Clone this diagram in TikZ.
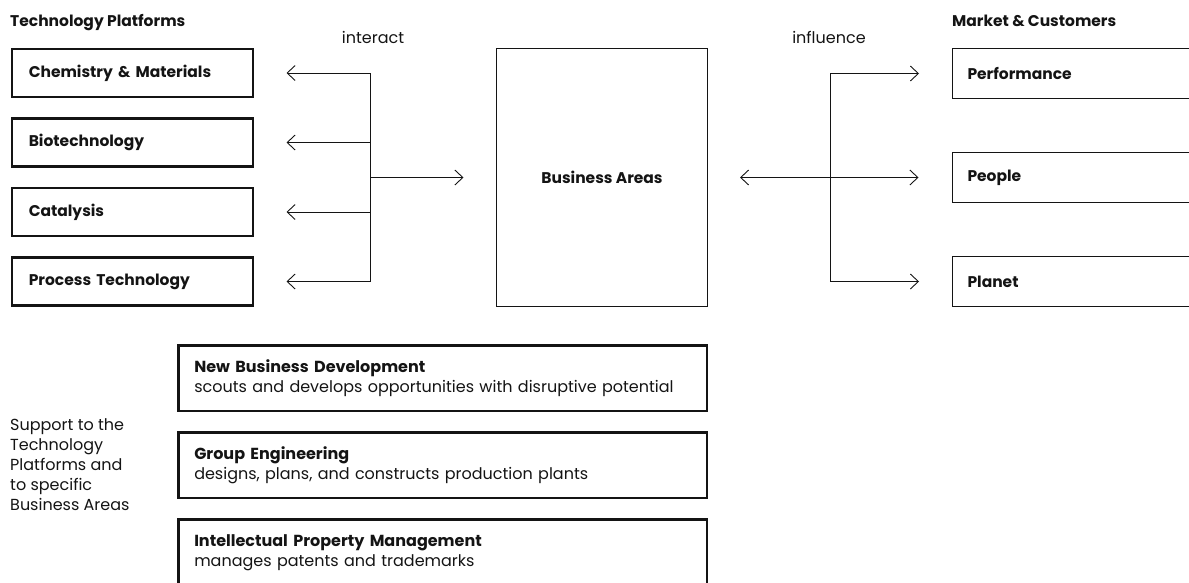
\documentclass[tikz,border=0pt]{standalone}
\usepackage{fontspec}
\setmainfont{Poppins}
\usepackage{xcolor}
\usepackage{tikz}
\usetikzlibrary{positioning, arrows.meta}
\definecolor{ink}{HTML}{141414}
\tikzset{
    platform/.style={rectangle, draw=ink, line width=2.5pt, minimum width=241pt, minimum height=48pt, text width=207pt, inner xsep=17pt, align=left, font=\bfseries\fontsize{15.5}{18}\selectfont, text=ink},
    market/.style={rectangle, draw=ink, line width=1pt, minimum width=300pt, minimum height=50pt, text width=269pt, inner xsep=15.5pt, align=left, font=\bfseries\fontsize{15.5}{18}\selectfont, text=ink},
    core/.style={rectangle, draw=ink, line width=1pt, minimum width=211pt, minimum height=258pt, align=center, font=\bfseries\fontsize{15.5}{18}\selectfont, text=ink},
    support/.style={rectangle, draw=ink, line width=2.5pt, minimum width=528.5pt, minimum height=65.5pt, text width=497pt, inner xsep=15.75pt, align=left, font=\fontsize{16}{20}\selectfont, text=ink},
    head/.style={font=\bfseries\fontsize{15.5}{18}\selectfont, text=ink, inner sep=0pt},
    label/.style={font=\fontsize{16}{20}\selectfont, text=ink, inner sep=0pt, align=left},
    link/.style={draw=ink, line width=0.9pt},
    arrow/.style={link, -{Straight Barb[length=8pt, width=15pt]}, shorten >=32.5pt},
    dblarrow/.style={link, {Straight Barb[length=8pt, width=15pt]}-{Straight Barb[length=8pt, width=15pt]}, shorten <=32pt, shorten >=33pt}
}

\begin{document}
\begin{tikzpicture}[x=1pt, y=-1pt]
        \useasboundingbox (0,0) rectangle (1189,582);
        \clip (0,0) rectangle (1189,582);

        % Technology Platforms
        \node[head, anchor=base west] (TechHead) at (10,26) {Technology Platforms};
        \node[platform, anchor=west] (Chem) at (10.5,73) {Chemistry \& Materials};
        \node[platform, below=19pt of Chem] (Bio) {Biotechnology};
        \node[platform, below=19pt of Bio] (Cat) {Catalysis};
        \node[platform, below=19pt of Cat] (Proc) {Process Technology};

        % Business Areas
        \node[core] (Biz) at (602,177.5) {Business Areas};

        % Market & Customers
        \node[head, anchor=base west] (MarketHead) at (952,26) {Market \& Customers};
        \node[market, anchor=west] (Perf) at (951.5,73.5) {Performance};
        \node[market, below=53pt of Perf] (People) {People};
        \node[market, below=53pt of People] (Planet) {Planet};

        % interact
        \node[label, anchor=base] (Interact) at (373,43) {interact};
        \coordinate (TrunkL) at (370,177.5);
        \draw[link] (TrunkL |- Chem) -- (TrunkL |- Proc);
        \foreach \p in {Chem, Bio, Cat, Proc}
            \draw[arrow] (TrunkL |- \p) -- (\p.east);
        \draw[arrow] (TrunkL) -- (Biz.west);

        % influence
        \node[label, anchor=base] (Influence) at (829,43) {influence};
        \coordinate (TrunkR) at (830,177.5);
        \draw[link] (TrunkR |- Perf) -- (TrunkR |- Planet);
        \draw[arrow] (TrunkR |- Perf) -- (Perf.west);
        \draw[arrow] (TrunkR |- Planet) -- (Planet.west);
        \draw[dblarrow] (Biz.east) -- (People.west);

        % Support functions
        \node[support, anchor=north west] (NBD) at (177.25,344.25)
            {\textbf{New Business Development}\\scouts and develops opportunities with disruptive potential};
        \node[support, below=19pt of NBD] (GE)
            {\textbf{Group Engineering}\\designs, plans, and constructs production plants};
        \node[support, below=19pt of GE] (IPM)
            {\textbf{Intellectual Property Management}\\manages patents and trademarks};
        \node[label, anchor=west] (SupportText) at (10,465)
            {Support to the\\Technology\\Platforms and\\to specific\\Business Areas};
    \end{tikzpicture}
\end{document}
